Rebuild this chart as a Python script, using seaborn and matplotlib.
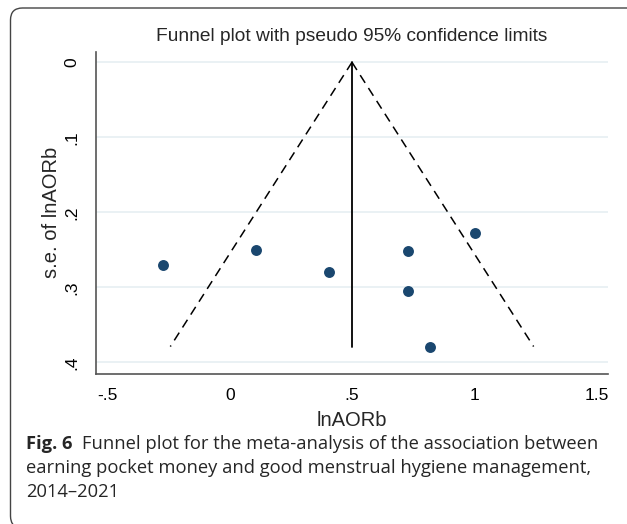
import matplotlib
matplotlib.use("Agg")
import matplotlib.pyplot as plt
import numpy as np
import pandas as pd
import seaborn as sns
from matplotlib.patches import FancyBboxPatch

# study estimates
LN_AOR = [-0.274, 0.106, 0.406, 0.730, 0.730, 1.002, 0.818]
SE_LN_AOR = [0.270, 0.250, 0.279, 0.251, 0.305, 0.227, 0.379]
POOLED = 0.5

X_TICKS = [-0.5, 0, 0.5, 1, 1.5]
X_TICK_LABELS = ["-.5", "0", ".5", "1", "1.5"]
Y_TICKS = [0, 0.1, 0.2, 0.3, 0.4]
Y_TICK_LABELS = ["0", ".1", ".2", ".3", ".4"]

TITLE = "Funnel plot with pseudo 95% confidence limits"
CAPTION_BOLD = "Fig. 6"
CAPTION_1 = "Funnel plot for the meta-analysis of the association between"
CAPTION_2 = "earning pocket money and good menstrual hygiene management,"
CAPTION_3 = "2014\u20132021"

NAVY = "#1a476f"
GRID = "#e6eff2"
SPINE = "#555555"

sns.set_theme(style="white")
plt.rcParams["font.family"] = ["Liberation Sans", "DejaVu Sans"]

W, H = 627, 524
fig = plt.figure(figsize=(W / 100, H / 100), dpi=100)
ax = fig.add_axes([95.7 / W, 1 - 374 / H, (608 - 95.7) / W, (374 - 51.7) / H])

df = pd.DataFrame({"lnAORb": LN_AOR, "se": SE_LN_AOR})

# pseudo 95% limits and pooled line
se_max = df["se"].max()
se_line = np.array([0.0, se_max])
ax.plot(POOLED - 1.96 * se_line, se_line, color="black", lw=1.1, ls=(0, (6, 4)), zorder=2)
ax.plot(POOLED + 1.96 * se_line, se_line, color="black", lw=1.1, ls=(0, (6, 4)), zorder=2)
ax.plot([POOLED, POOLED], se_line, color="black", lw=1.3, zorder=2)

sns.scatterplot(data=df, x="lnAORb", y="se", color=NAVY, s=62, edgecolor=NAVY,
                linewidth=0, ax=ax, zorder=3)

ax.set_xlim(-0.548, 1.547)
ax.set_ylim(0.4156, -0.0141)
ax.set_xticks(X_TICKS)
ax.set_xticklabels(X_TICK_LABELS)
ax.set_yticks(Y_TICKS)
ax.set_yticklabels(Y_TICK_LABELS, rotation=90, va="center")
for y in Y_TICKS:
    ax.axhline(y, color=GRID, lw=1.2, zorder=0)

for side in ["top", "right"]:
    ax.spines[side].set_visible(False)
for side in ["left", "bottom"]:
    ax.spines[side].set_color(SPINE)
    ax.spines[side].set_linewidth(1.2)
ax.tick_params(axis="both", direction="out", length=6, width=1.1, color=SPINE,
               labelsize=12.5, labelcolor="black", pad=4)
ax.tick_params(axis="y", pad=6)

ax.set_xlabel("lnAORb", fontsize=14.5, labelpad=6)
ax.set_ylabel("s.e. of lnAORb", fontsize=14.5, labelpad=2)
ax.set_title(TITLE, fontsize=13.8, pad=8)

# figure frame with rounded corner, running past the right and bottom edges
frame = FancyBboxPatch((10.5, -4), 700, 520, boxstyle="round,pad=0,rounding_size=12",
                       transform=None, facecolor="none", edgecolor="#444444", lw=1.0)
fig.patches.append(frame)

cap_font = ["Open Sans", "DejaVu Sans"]
cap_size = 13.2
t = fig.text(26 / W, 1 - 444 / H, CAPTION_BOLD, fontsize=cap_size, fontweight="bold",
             family=cap_font, va="center", ha="left")
fig.canvas.draw()
bb = t.get_window_extent()
fig.text((bb.x1 + 10) / W, 1 - 444 / H, CAPTION_1, fontsize=cap_size, family=cap_font,
         va="center", ha="left")
fig.text(26 / W, 1 - 468 / H, CAPTION_2, fontsize=cap_size, family=cap_font,
         va="center", ha="left")
fig.text(26 / W, 1 - 492 / H, CAPTION_3, fontsize=cap_size, family=cap_font,
         va="center", ha="left")

fig.savefig("out.png", dpi=100)
